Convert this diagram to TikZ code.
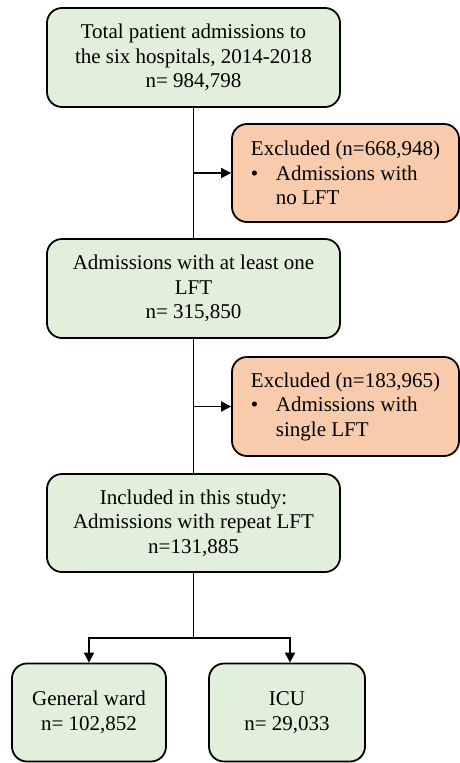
\documentclass[tikz,border=0pt]{standalone}
\usepackage{fontspec}
\setmainfont{Liberation Serif}
\usetikzlibrary{arrows.meta}
\definecolor{boxgreen}{HTML}{E2EFDA}
\definecolor{boxorange}{HTML}{F8CBAD}
\begin{document}
\begin{tikzpicture}[x=1pt,y=-1pt,
  basebox/.style={draw, line width=1.8pt, rounded corners=15pt, inner sep=0pt,
    font=\fontsize{21}{24.5}\selectfont},
  greenbox/.style={basebox, fill=boxgreen, align=center},
  orangebox/.style={basebox, fill=boxorange, align=left},
  conn/.style={line width=1.8pt},
  arr/.style={conn, -{Triangle[length=10pt,width=10pt]}}]
\useasboundingbox (0,0) rectangle (460,763);
\node[greenbox, minimum width=293pt, minimum height=99pt] (b1) at (193.5,57.5)
  {Total patient admissions to\\the six hospitals, 2014-2018\\n= 984,798};
\node[orangebox, minimum width=227pt, minimum height=98pt] (e1) at (345.5,173)
  {Excluded (n=668,948)\\\makebox[25pt][l]{\textbullet}Admissions with\\\hspace*{25pt}no LFT};
\node[greenbox, minimum width=293pt, minimum height=99pt] (b2) at (193.5,288.5)
  {Admissions with at least one\\LFT\\n= 315,850};
\node[orangebox, minimum width=227pt, minimum height=99pt] (e2) at (345.5,406.5)
  {Excluded (n=183,965)\\\makebox[25pt][l]{\textbullet}Admissions with\\\hspace*{25pt}single LFT};
\node[greenbox, minimum width=293pt, minimum height=98pt] (b3) at (193.5,523)
  {Included in this study:\\Admissions with repeat LFT\\n=131,885};
\node[greenbox, minimum width=154pt, minimum height=98pt] (gw) at (89,712.5)
  {General ward\\n= 102,852};
\node[greenbox, minimum width=156pt, minimum height=98pt] (icu) at (287,712.5)
  {ICU\\n= 29,033};
\coordinate (split) at (193.5,638);
\draw[conn] (b1.south) -- (b2.north);
\draw[arr] (b1.south |- e1.west) -- (e1.west);
\draw[conn] (b2.south) -- (b3.north);
\draw[arr] (b2.south |- e2.west) -- (e2.west);
\draw[conn] (b3.south) -- (split);
\draw[arr] (split) -| (gw.north);
\draw[arr] (split) -| ([xshift=3pt]icu.north);
\end{tikzpicture}
\end{document}
